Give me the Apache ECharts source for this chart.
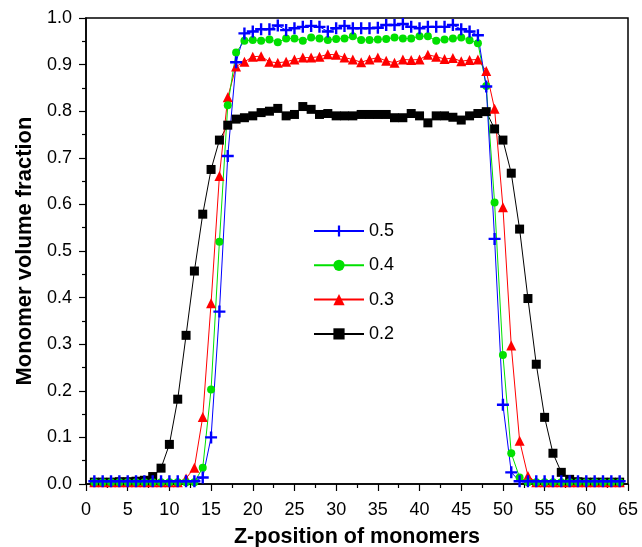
<!DOCTYPE html>
<html>
<head>
<meta charset="utf-8">
<script src="https://cdn.jsdelivr.net/npm/echarts@6/dist/echarts.min.js"></script>
<style>
  html, body { margin: 0; padding: 0; background: #fff; }
  #chart { width: 642px; height: 547px; }
</style>
</head>
<body>
<div id="chart"></div>
<script>
// Z positions of the monomer layers
const zPositions = [
  1, 2, 3, 4, 5, 6, 7, 8, 9, 10, 11, 12, 13, 14, 15, 16,
  17, 18, 19, 20, 21, 22, 23, 24, 25, 26, 27, 28, 29, 30, 31, 32,
  33, 34, 35, 36, 37, 38, 39, 40, 41, 42, 43, 44, 45, 46, 47, 48,
  49, 50, 51, 52, 53, 54, 55, 56, 57, 58, 59, 60, 61, 62, 63, 64
];

// Monomer volume fraction profiles, one per concentration
const phi05 = [
  0.006, 0.006, 0.006, 0.006, 0.006, 0.006, 0.006, 0.006, 0.006, 0.006, 0.006, 0.006, 0.006, 0.014, 0.100, 0.370,
  0.704, 0.905, 0.967, 0.971, 0.976, 0.976, 0.984, 0.974, 0.978, 0.981, 0.983, 0.981, 0.971, 0.978, 0.983, 0.978,
  0.978, 0.978, 0.979, 0.985, 0.985, 0.987, 0.981, 0.978, 0.981, 0.981, 0.981, 0.985, 0.976, 0.971, 0.963, 0.853,
  0.526, 0.170, 0.025, 0.006, 0.006, 0.006, 0.006, 0.006, 0.006, 0.006, 0.006, 0.006, 0.006, 0.006, 0.006, 0.006
];
const phi04 = [
  0.004, 0.004, 0.004, 0.004, 0.004, 0.004, 0.004, 0.004, 0.004, 0.004, 0.004, 0.004, 0.004, 0.035, 0.203, 0.520,
  0.813, 0.926, 0.951, 0.953, 0.951, 0.954, 0.948, 0.956, 0.956, 0.951, 0.958, 0.956, 0.953, 0.955, 0.956, 0.961,
  0.953, 0.953, 0.954, 0.955, 0.958, 0.956, 0.956, 0.961, 0.961, 0.951, 0.954, 0.956, 0.958, 0.952, 0.946, 0.854,
  0.604, 0.277, 0.066, 0.014, 0.004, 0.004, 0.004, 0.004, 0.004, 0.004, 0.004, 0.004, 0.004, 0.004, 0.004, 0.004
];
const phi03 = [
  0.004, 0.004, 0.004, 0.004, 0.004, 0.004, 0.004, 0.004, 0.004, 0.004, 0.004, 0.012, 0.035, 0.144, 0.388, 0.661,
  0.830, 0.896, 0.906, 0.917, 0.918, 0.906, 0.904, 0.906, 0.911, 0.915, 0.915, 0.917, 0.922, 0.921, 0.915, 0.911,
  0.905, 0.911, 0.915, 0.908, 0.904, 0.911, 0.910, 0.911, 0.921, 0.917, 0.912, 0.914, 0.907, 0.910, 0.911, 0.886,
  0.805, 0.594, 0.297, 0.093, 0.017, 0.004, 0.004, 0.004, 0.004, 0.004, 0.004, 0.004, 0.004, 0.004, 0.004, 0.004
];
const phi02 = [
  0.004, 0.004, 0.004, 0.005, 0.005, 0.006, 0.008, 0.016, 0.034, 0.085, 0.182, 0.319, 0.457, 0.579, 0.675, 0.738,
  0.770, 0.783, 0.786, 0.790, 0.797, 0.800, 0.806, 0.790, 0.793, 0.810, 0.804, 0.793, 0.795, 0.790, 0.790, 0.790,
  0.793, 0.793, 0.793, 0.793, 0.786, 0.786, 0.795, 0.790, 0.775, 0.790, 0.790, 0.787, 0.781, 0.790, 0.795, 0.799,
  0.762, 0.738, 0.667, 0.547, 0.398, 0.257, 0.143, 0.066, 0.025, 0.010, 0.005, 0.004, 0.004, 0.004, 0.004, 0.004
];

const seriesNames = ['0.2', '0.3', '0.4', '0.5'];
const legendOrder = ['0.5', '0.4', '0.3', '0.2'];

const FONT = 'Liberation Sans, Arial, sans-serif';
const CROSS = 'path://M4,0h2v4h4v2h-4v4h-2v-4h-4v-2h4z';

function pairs(values) {
  return zPositions.map((z, i) => [z, values[i]]);
}

function lineSeries(name, values, color, symbol, size) {
  return {
    name: name,
    type: 'line',
    data: pairs(values),
    symbol: symbol,
    symbolSize: size,
    showAllSymbol: true,
    lineStyle: { color: color, width: 1 },
    itemStyle: { color: color },
    emphasis: { disabled: true },
    animation: false
  };
}

const chart = echarts.init(document.getElementById('chart'), null, { renderer: 'canvas' });

chart.setOption({
  backgroundColor: '#fff',
  animation: false,
  grid: {
    left: 86, right: 14, top: 18, bottom: 63,
    outerBoundsMode: 'none',
    containLabel: false,
    show: true, borderColor: '#000', borderWidth: 1.5, backgroundColor: 'transparent'
  },
  legend: {
    data: legendOrder,
    orient: 'vertical',
    left: 308,
    top: 217,
    itemWidth: 50,
    itemHeight: 14,
    itemGap: 16.3,
    textStyle: { fontFamily: FONT, fontSize: 18, color: '#000' },
    inactiveColor: '#ccc'
  },
  xAxis: {
    type: 'value',
    min: 0, max: 65, interval: 5,
    name: 'Z-position of monomers',
    nameLocation: 'middle',
    nameGap: 42,
    nameTextStyle: { fontFamily: FONT, fontSize: 21.5, fontWeight: 'bold', color: '#000' },
    axisLine: { show: true, onZero: false, lineStyle: { color: '#000', width: 1.5 } },
    axisTick: { show: true, inside: false, length: 7, lineStyle: { color: '#000', width: 1.2 } },
    minorTick: { show: true, splitNumber: 2, length: 4, lineStyle: { color: '#000', width: 1.2 } },
    axisLabel: { fontFamily: FONT, fontSize: 18, color: '#000', margin: 17 },
    splitLine: { show: false }
  },
  yAxis: {
    type: 'value',
    min: 0, max: 1, interval: 0.1,
    name: 'Monomer volume fraction',
    nameLocation: 'middle',
    nameGap: 50,
    nameTextStyle: { fontFamily: FONT, fontSize: 22, fontWeight: 'bold', color: '#000' },
    axisLine: { show: true, onZero: false, lineStyle: { color: '#000', width: 1.5 } },
    axisTick: { show: true, inside: false, length: 7, lineStyle: { color: '#000', width: 1.2 } },
    minorTick: { show: true, splitNumber: 2, length: 4, lineStyle: { color: '#000', width: 1.2 } },
    axisLabel: {
      fontFamily: FONT, fontSize: 18, color: '#000', margin: 14,
      formatter: v => v.toFixed(1)
    },
    splitLine: { show: false }
  },
  series: [
    lineSeries(seriesNames[0], phi02, '#000000', 'rect', 9),
    lineSeries(seriesNames[1], phi03, '#ff0000', 'triangle', 10),
    lineSeries(seriesNames[2], phi04, '#00e000', 'circle', 8),
    lineSeries(seriesNames[3], phi05, '#0000ff', CROSS, 12)
  ]
});
</script>
</body>
</html>
